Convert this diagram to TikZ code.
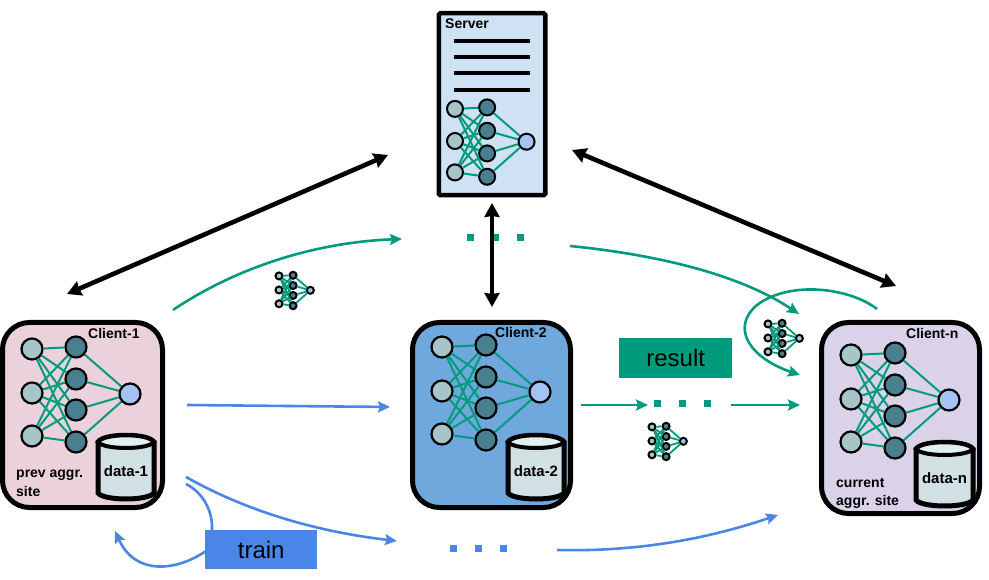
\documentclass[tikz,border=0pt]{standalone}
\usepackage{fontspec}
\setmainfont{Liberation Sans}
\usetikzlibrary{arrows.meta}
\definecolor{teal1}{HTML}{009B7D}
\definecolor{blue1}{HTML}{4A86E8}
\definecolor{hid}{HTML}{4A7F8F}
\definecolor{inp}{HTML}{A5C5C9}
\definecolor{outp}{HTML}{A4C2F4}
\definecolor{cyl}{HTML}{D0E0E3}
\definecolor{cyltop}{HTML}{E3EEF0}
\definecolor{srv}{HTML}{CFE2F3}
\definecolor{pink1}{HTML}{EAD1DC}
\definecolor{blue2}{HTML}{6FA8DC}
\definecolor{lav}{HTML}{D9D2E9}
\tikzset{
  clientbox/.style={draw=black,line width=5pt,rounded corners=27pt,inner sep=0pt,anchor=north west},
  serverbox/.style={draw=black,line width=4.5pt,rounded corners=1.5pt,fill=srv,inner sep=0pt,anchor=north west},
  lab/.style={font=\bfseries\fontsize{14}{16}\selectfont,inner sep=0pt,text=black},
  biglab/.style={font=\fontsize{24}{26}\selectfont,inner sep=0pt,text=black,anchor=north west},
  bigarrow/.style={line width=4.6pt,black,{Stealth[length=14pt,width=15pt,inset=1pt]}-{Stealth[length=14pt,width=15pt,inset=1pt]}},
  tealarrow/.style={line width=2.6pt,teal1,-{Stealth[length=12pt,width=11pt,inset=2pt]}},
  bluearrow/.style={line width=2.6pt,blue1,-{Stealth[length=12pt,width=11pt,inset=2pt]}},
  blueline/.style={line width=2.6pt,blue1},
  dotmark/.style={minimum width=7pt,minimum height=7pt,inner sep=0pt},
  barline/.style={line width=4.5pt,black},
}
% #1 prefix, #2 x, #3 y (middle input), #4 scale, #5 diameter, #6 outline, #7 edge width
\newcommand{\netw}[7]{%
  \foreach \i/\yy in {1/-44,2/0,3/43}{
    \node[circle,draw=black,fill=inp,line width=#6,minimum size=#5,inner sep=0pt] (#1i\i) at ({#2},{#3+#4*\yy}) {};
  }
  \foreach \i/\yy in {1/-46,2/-14,3/17,4/49}{
    \node[circle,draw=black,fill=hid,line width=#6,minimum size=#5,inner sep=0pt] (#1h\i) at ({#2+#4*44},{#3+#4*\yy}) {};
  }
  \node[circle,draw=black,fill=outp,line width=#6,minimum size=#5,inner sep=0pt] (#1o) at ({#2+#4*98},{#3+#4*1}) {};
  \foreach \a in {1,2,3}{\foreach \b in {1,2,3,4}{\draw[teal1,line width=#7] (#1i\a) -- (#1h\b);}}
  \foreach \b in {1,2,3,4}{\draw[teal1,line width=#7] (#1h\b) -- (#1o);}
}
% #1 name, #2 left, #3 top, #4 right, #5 bottom, #6 label
\newcommand{\cyldb}[6]{%
  \draw[fill=cyl,line width=5pt] (#2,#3+6) -- (#2,#5-6) .. controls (#2+6,#5+2) and (#4-6,#5+2) .. (#4,#5-6) -- (#4,#3+6) .. controls (#4-6,#3-3) and (#2+6,#3-3) .. (#2,#3+6) -- cycle;
  \draw[fill=cyltop,line width=4pt] (#2,#3+6) .. controls (#2+6,#3+14) and (#4-6,#3+14) .. (#4,#3+6) .. controls (#4-6,#3-3) and (#2+6,#3-3) .. (#2,#3+6) -- cycle;
  \node[lab,font=\bfseries\fontsize{15}{17}\selectfont] (#1) at ({(#2+#4)/2},{(#3+#5)/2+4}) {#6};
}
\begin{document}
\begin{tikzpicture}[x=1pt,y=-1pt]
\useasboundingbox (0,0) rectangle (989,580);
% clients
\node[clientbox,fill=pink1,minimum width=160pt,minimum height=185pt] (c1) at (0,320) {};
\node[clientbox,fill=blue2,minimum width=158pt,minimum height=185pt] (c2) at (410,320) {};
\node[clientbox,fill=lav,minimum width=158pt,minimum height=191pt] (c3) at (819,320) {};
% server
\node[serverbox,minimum width=106.5pt,minimum height=182pt] (srv) at (436.5,11) {};
\foreach \n/\yy in {1/41,2/57,3/73,4/90}{
  \coordinate (bl\n) at (454,\yy);
  \coordinate (br\n) at (530,\yy);
  \draw[barline] (bl\n) -- (br\n);
}
\node[lab,anchor=west] (lserver) at (445,24) {Server};
\node[lab,anchor=west] (lc1) at (88,333) {Client-1};
\node[lab,anchor=west] (lc2) at (495,332) {Client-2};
\node[lab,anchor=west] (lc3) at (906,333) {Client-n};
\netw{a}{32}{393}{1}{21pt}{2.2pt}{2pt}
\netw{b}{442}{391}{1}{21pt}{2.2pt}{2pt}
\netw{c}{851}{399}{1}{21pt}{2.2pt}{2pt}
\netw{s}{455}{141}{0.73}{16pt}{2pt}{2pt}
\netw{m1}{279}{290}{0.32}{7pt}{2pt}{1.8pt}
\netw{m2}{768}{338}{0.32}{7pt}{2pt}{1.8pt}
\netw{m3}{652}{441}{0.32}{7pt}{2pt}{1.8pt}
\cyldb{d1}{98}{436}{154}{499}{data-1}
\cyldb{d2}{508}{436}{564}{499}{data-2}
\cyldb{d3}{916}{443}{973}{506}{data-n}
\node[lab,anchor=north west,align=left] (lprev) at (16,470) {prev aggr.\\[3pt]site};
\node[lab,anchor=north west,align=left] (lcur) at (836,478) {current\\[2pt]aggr. site};
% label boxes
\node[fill=teal1,minimum width=113pt,minimum height=40pt,inner sep=0pt,anchor=north west] (res) at (619,338) {};
\node[biglab,anchor=center] (lres) at (res.center) {result};
\node[fill=blue1,minimum width=112pt,minimum height=39pt,inner sep=0pt,anchor=north west] (trn) at (205,530) {};
\node[biglab,anchor=center] (ltrn) at (trn.center) {train};
% dots
\foreach \n/\xx in {1/470,2/495,3/520}{\node[dotmark,fill=teal1] (dt\n) at (\xx,238) {};}
\foreach \n/\xx in {1/657,2/682,3/707}{\node[dotmark,fill=teal1] (dm\n) at (\xx,403) {};}
\foreach \n/\xx in {1/453,2/478,3/503}{\node[dotmark,fill=blue1] (db\n) at (\xx,548) {};}
% free ends
\coordinate (k1) at (388,155); \coordinate (k2) at (67,294);
\coordinate (k3) at (492,203); \coordinate (k4) at (492,307);
\coordinate (k5) at (572,150); \coordinate (k6) at (896,286);
\draw[bigarrow] (k1) -- (k2);
\draw[bigarrow] (k3) -- (k4);
\draw[bigarrow] (k5) -- (k6);
% teal
\coordinate (t1) at (173,310); \coordinate (t2) at (402,239);
\coordinate (t3) at (570,246); \coordinate (t4) at (799,314);
\coordinate (t5) at (877,309); \coordinate (t6) at (800,375);
\coordinate (t7) at (581,405); \coordinate (t8) at (648,405);
\coordinate (t9) at (731,405); \coordinate (t10) at (800,405);
\draw[tealarrow] (t1) .. controls (240,265) and (320,242) .. (t2);
\draw[tealarrow] (t3) .. controls (660,255) and (740,275) .. (t4);
\draw[tealarrow] (t5) .. controls (850,288) and (790,280) .. (757,305) .. controls (730,328) and (750,358) .. (t6);
\draw[tealarrow] (t7) -- (t8);
\draw[tealarrow] (t9) -- (t10);
% blue
\coordinate (u1) at (187,405); \coordinate (u2) at (390,407);
\coordinate (u3) at (186,477); \coordinate (u4) at (397,541);
\coordinate (u5) at (557,550); \coordinate (u6) at (778,515);
\coordinate (u7) at (186,484); \coordinate (u8) at (212,530);
\coordinate (u9) at (206,551); \coordinate (u10) at (115,531);
\draw[bluearrow] (u1) -- (u2);
\draw[bluearrow] (u3) .. controls (250,513) and (320,532) .. (u4);
\draw[bluearrow] (u5) .. controls (640,552) and (710,538) .. (u6);
\draw[blueline] (u7) .. controls (202,492) and (213,510) .. (u8);
\draw[bluearrow] (u9) .. controls (175,572) and (135,575) .. (u10);
\end{tikzpicture}
\end{document}
